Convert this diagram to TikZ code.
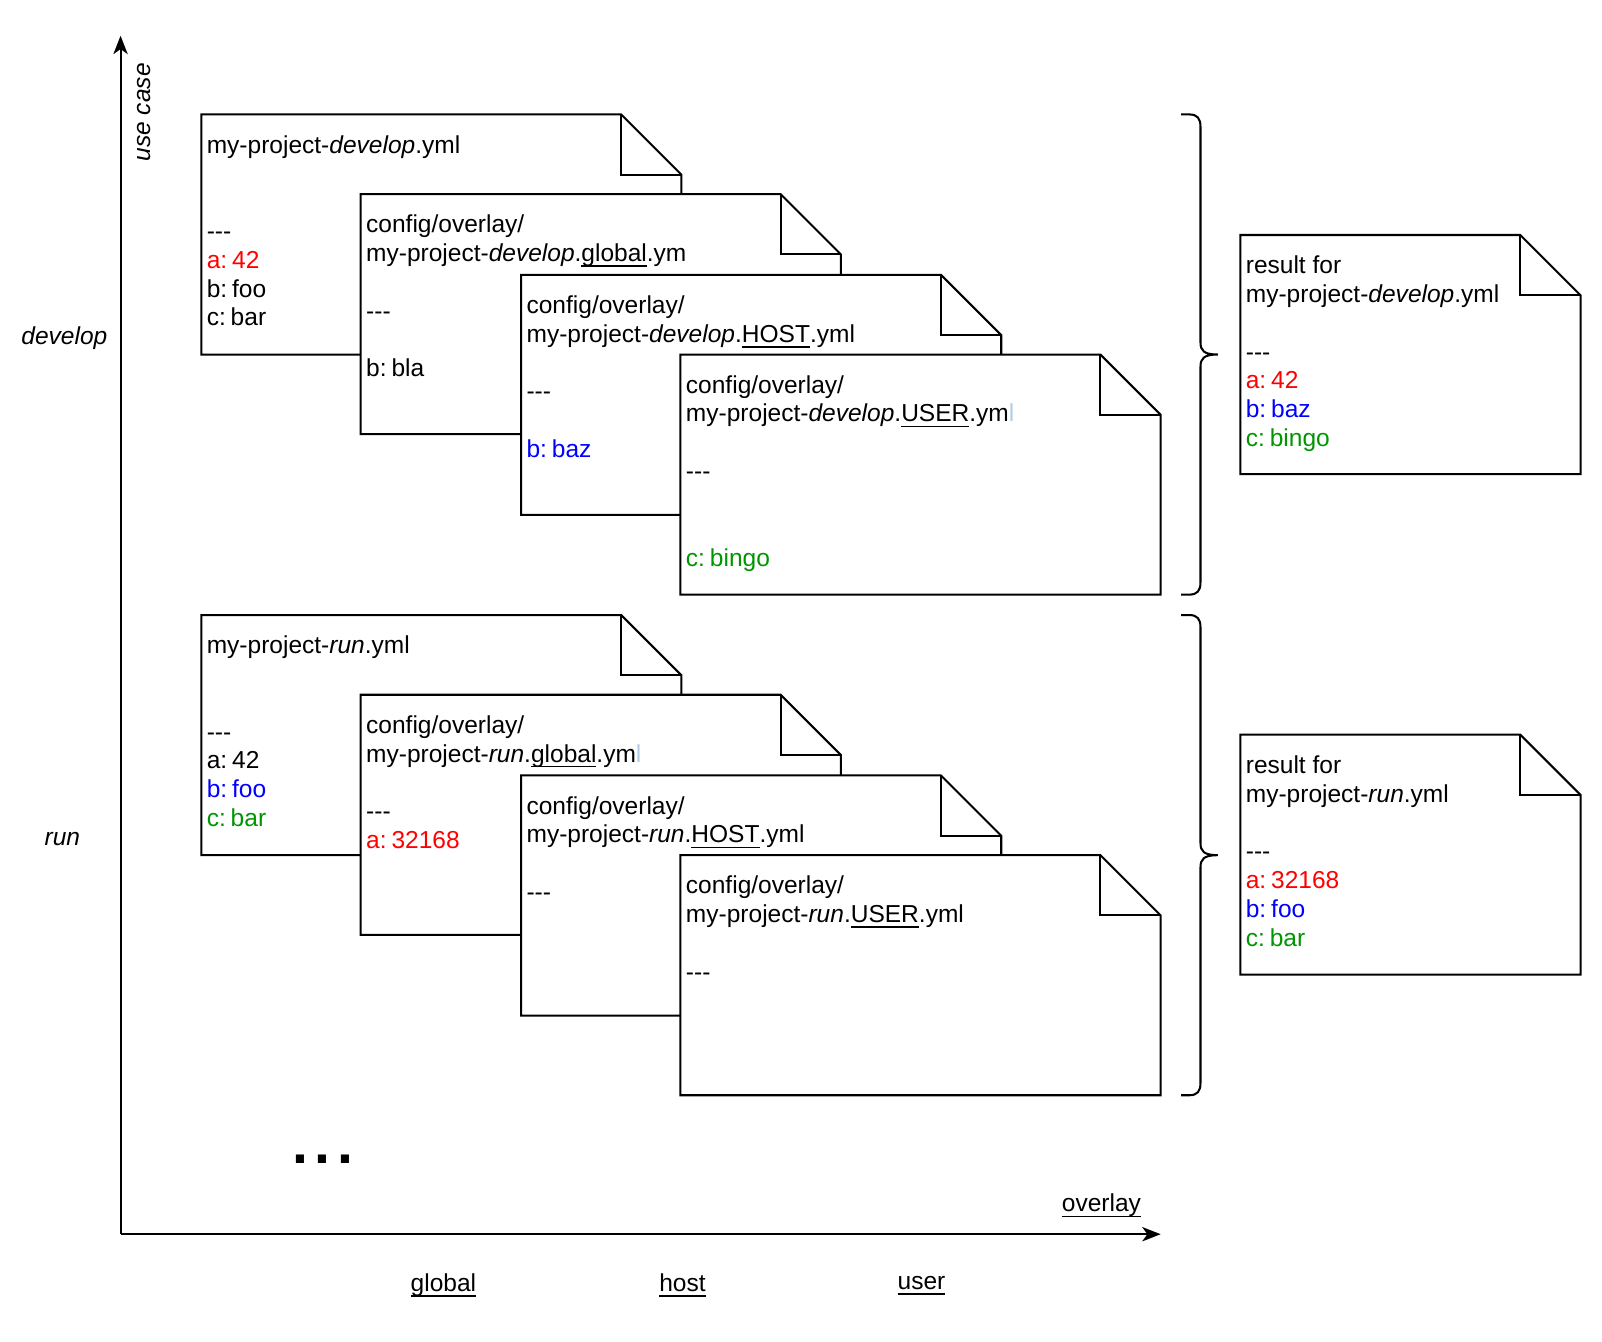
\documentclass[tikz,border=0pt]{standalone}
\usepackage{fontspec}
\setmainfont{Liberation Sans}
\usetikzlibrary{arrows.meta}

\definecolor{yred}{RGB}{255,0,0}
\definecolor{yblue}{RGB}{0,0,255}
\definecolor{ygreen}{RGB}{0,150,0}
\definecolor{ycursor}{RGB}{175,205,235}

\newcommand{\ydash}{\mbox{-}\mbox{-}\mbox{-}}
\newcommand{\uln}[1]{\setbox0\hbox{#1}\rlap{\rule[-2.6pt]{\wd0}{0.8pt}}\box0}
\newcommand{\kv}[2]{#1:\hspace{0.2em}#2}

% file shape with folded corner: name, left, top, width, height, text
\newcommand{\yamlfile}[6]{%
  \draw[filebox] (#2,#3) -- ({#2+#4-59},#3) -- ({#2+#4},{#3+59})
    -- ({#2+#4},{#3+#5}) -- (#2,{#3+#5}) -- cycle;
  \draw[filebox, fill=none] ({#2+#4-59},#3) -- ({#2+#4-59},{#3+59}) -- ({#2+#4},{#3+59});
  \node[filetext] (#1) at ({#2+5},{#3+20}) {#6};
}

% curly brace: x, top, bottom
\newcommand{\overlaybrace}[3]{%
  \pgfmathsetmacro{\bmid}{(#2+#3)/2}
  \draw[bracestyle] (#1,#2) -- ({#1+8},#2)
    .. controls ({#1+16},#2) and ({#1+19},{#2+4}) .. ({#1+19},{#2+12})
    -- ({#1+19},{\bmid-12})
    .. controls ({#1+19},{\bmid-4}) and ({#1+22},\bmid) .. ({#1+36},\bmid)
    .. controls ({#1+22},\bmid) and ({#1+19},{\bmid+4}) .. ({#1+19},{\bmid+12})
    -- ({#1+19},{#3-12})
    .. controls ({#1+19},{#3-4}) and ({#1+16},#3) .. ({#1+8},#3) -- (#1,#3);
}

\tikzset{
  filebox/.style={draw=black, line width=1pt, fill=white, line join=miter},
  filetext/.style={anchor=north west, inner sep=0pt, align=left,
    font=\fontsize{12pt}{14.1pt}\selectfont},
  bracestyle/.style={draw=black, line width=1pt},
  axis/.style={line width=1pt, -{Stealth[length=9pt, width=7pt, inset=2.5pt]}},
  axistext/.style={inner sep=0pt, font=\fontsize{12pt}{14pt}\selectfont},
}

\begin{document}
\begin{tikzpicture}[x=0.5pt, y=-0.5pt]
  \useasboundingbox (0,0) rectangle (1568,1313);

  % axes
  \coordinate (origin) at (118,1208);
  \coordinate (ytip) at (118,35);
  \coordinate (xtip) at (1136,1208);
  \draw[axis] (origin) -- (ytip);
  \draw[axis] (origin) -- (xtip);

  \node[axistext, rotate=90] (usecase) at (141,110) {\textit{use case}};
  \node[axistext] (develop) at (63,331) {\textit{develop}};
  \node[axistext] (run) at (61,821) {\textit{run}};
  \node[axistext] (overlay) at (1078,1180) {\uln{overlay}};
  \node[axistext] (global) at (434,1258) {\uln{global}};
  \node[axistext] (host) at (668,1258) {\uln{host}};
  \node[axistext] (user) at (902,1258) {\uln{user}};
  \node[anchor=base, inner sep=0pt, font=\fontsize{28pt}{30pt}\selectfont\bfseries] (more) at (316,1139) {.\hspace{3.2pt}.\hspace{3.2pt}.};

  % develop
  \yamlfile{devbase}{197}{112}{470}{235}{my-project-\textit{develop}.yml\\ \\ \\\ydash\\\textcolor{yred}{\kv{a}{42}}\\\kv{b}{foo}\\\kv{c}{bar}}
  \yamlfile{devglobal}{353}{190}{470}{235}{config/overlay/\\my-project-\textit{develop}.\uln{global}.ym\\ \\\ydash\\ \\\kv{b}{bla}}
  \yamlfile{devhost}{510}{269}{470}{235}{config/overlay/\\my-project-\textit{develop}.\uln{HOST}.yml\\ \\\ydash\\ \\\textcolor{yblue}{\kv{b}{baz}}}
  \yamlfile{devuser}{666}{347}{470}{235}{config/overlay/\\my-project-\textit{develop}.\uln{USER}.ym\textcolor{ycursor}{l}\\ \\\ydash\\ \\ \\\textcolor{ygreen}{\kv{c}{bingo}}}
  \overlaybrace{1156}{112}{582}
  \yamlfile{devresult}{1214}{230}{333}{234}{result for\\my-project-\textit{develop}.yml\\ \\\ydash\\\textcolor{yred}{\kv{a}{42}}\\\textcolor{yblue}{\kv{b}{baz}}\\\textcolor{ygreen}{\kv{c}{bingo}}}

  % run
  \yamlfile{runbase}{197}{602}{470}{235}{my-project-\textit{run}.yml\\ \\ \\\ydash\\\kv{a}{42}\\\textcolor{yblue}{\kv{b}{foo}}\\\textcolor{ygreen}{\kv{c}{bar}}}
  \yamlfile{runglobal}{353}{680}{470}{235}{config/overlay/\\my-project-\textit{run}.\uln{global}.ym\textcolor{ycursor}{l}\\ \\\ydash\\\textcolor{yred}{\kv{a}{32168}}}
  \yamlfile{runhost}{510}{759}{470}{235}{config/overlay/\\my-project-\textit{run}.\uln{HOST}.yml\\ \\\ydash}
  \yamlfile{runuser}{666}{837}{470}{235}{config/overlay/\\my-project-\textit{run}.\uln{USER}.yml\\ \\\ydash}
  \overlaybrace{1156}{602}{1072}
  \yamlfile{runresult}{1214}{719}{333}{235}{result for\\my-project-\textit{run}.yml\\ \\\ydash\\\textcolor{yred}{\kv{a}{32168}}\\\textcolor{yblue}{\kv{b}{foo}}\\\textcolor{ygreen}{\kv{c}{bar}}}
\end{tikzpicture}
\end{document}
